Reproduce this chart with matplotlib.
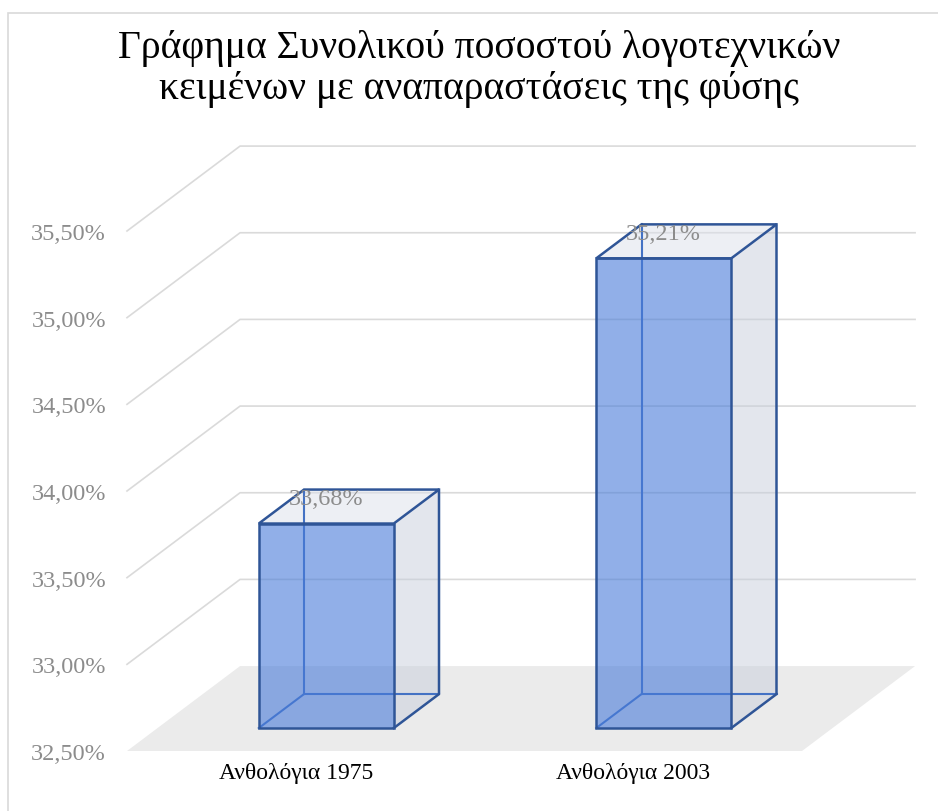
import matplotlib.pyplot as plt
from matplotlib.patches import Polygon, Rectangle

plt.rcParams['font.family'] = ['Liberation Serif', 'DejaVu Serif']

categories = ['Ανθολόγια 1975', 'Ανθολόγια 2003']
values = [33.68, 35.21]
value_labels = ['33,68%', '35,21%']
y_ticks = [32.5, 33.0, 33.5, 34.0, 34.5, 35.0, 35.5]
y_tick_labels = ['32,50%', '33,00%', '33,50%', '34,00%', '34,50%', '35,00%', '35,50%']
title = 'Γράφημα Συνολικού ποσοστού λογοτεχνικών\nκειμένων με αναπαραστάσεις της φύσης'

# oblique "3D" look: depth z in [0, 1] shifts points right and up
DX = 0.335   # category units per unit depth
DY = 0.49    # percent per unit depth
Z_FRONT, Z_BACK = 0.27, 0.67
BAR_W = 0.4
BASE = y_ticks[0]


def proj(x, y, z):
    return (x + z * DX, y + z * DY)


fig = plt.figure(figsize=(9.38, 8.12), dpi=100)
W, H = 938, 812
left, right, bottom_px = 127, 127 + (2 + DX) * 337.5, 752
px_per_pct = 173.33
top_px = bottom_px - (y_ticks[-1] + DY - BASE) * px_per_pct
ax = fig.add_axes([left / W, 1 - bottom_px / H, (right - left) / W, (bottom_px - top_px) / H])
ax.set_xlim(0, 2 + DX)
ax.set_ylim(BASE, y_ticks[-1] + DY)
for s in ax.spines.values():
    s.set_visible(False)

# chart border
fig.patches.append(Rectangle((8 / W, -0.1), 1.2, 1 - 14 / H + 0.1, transform=fig.transFigure,
                             fill=False, edgecolor='#D9D9D9', lw=1.2))

# floor
ax.add_patch(Polygon([proj(0, BASE, 0), proj(2, BASE, 0), proj(2, BASE, 1), proj(0, BASE, 1)],
                     closed=True, facecolor='#EBEBEB', edgecolor='none', zorder=1))

# gridlines: left wall and back wall
for v in y_ticks[1:]:
    pts = [proj(0, v, 0), proj(0, v, 1), proj(2, v, 1)]
    ax.plot([p[0] for p in pts], [p[1] for p in pts], color='#DADADA', lw=1.2, zorder=2,
            clip_on=False)

# bars
for i, v in enumerate(values):
    cx = i + 0.5
    x0, x1 = cx - BAR_W / 2, cx + BAR_W / 2
    zf, zb = Z_FRONT, Z_BACK
    side = [proj(x1, BASE, zf), proj(x1, BASE, zb), proj(x1, v, zb), proj(x1, v, zf)]
    top = [proj(x0, v, zf), proj(x1, v, zf), proj(x1, v, zb), proj(x0, v, zb)]
    front = [proj(x0, BASE, zf), proj(x1, BASE, zf), proj(x1, v, zf), proj(x0, v, zf)]
    ax.add_patch(Polygon(side, closed=True, facecolor='#C8CFDC', alpha=0.5, edgecolor='none', zorder=3))
    ax.add_patch(Polygon(top, closed=True, facecolor='#DDE1EB', alpha=0.5, edgecolor='none', zorder=3))
    # hidden edges
    for a, b in [((x0, BASE, zb), (x0, v, zb)), ((x0, BASE, zb), (x1, BASE, zb)),
                 ((x0, BASE, zf), (x0, BASE, zb))]:
        pa, pb = proj(*a), proj(*b)
        ax.plot([pa[0], pb[0]], [pa[1], pb[1]], color='#4472C4', lw=1.5, zorder=4)
    ax.add_patch(Polygon(front, closed=True, facecolor='#487BD9', alpha=0.6, edgecolor='none', zorder=5))
    ax.add_patch(Polygon(front, closed=True, fill=False, edgecolor='#2F5597', lw=1.8, zorder=6))
    ax.add_patch(Polygon(top, closed=True, fill=False, edgecolor='#2F5597', lw=1.8, zorder=6))
    edge = [proj(x1, v, zb), proj(x1, BASE, zb), proj(x1, BASE, zf)]
    ax.plot([p[0] for p in edge], [p[1] for p in edge], color='#2F5597', lw=1.8, zorder=6)
    lx, ly = proj(cx, v, zf)
    ax.annotate(value_labels[i], (lx, ly), xytext=(0, 18), textcoords='offset points',
                ha='center', va='center', fontsize=17.5, color='#8C8C8C', zorder=7)

ax.set_yticks(y_ticks)
ax.set_yticklabels(y_tick_labels, fontsize=17.5, color='#8C8C8C')
ax.set_xticks([0.5, 1.5])
ax.set_xticklabels(categories, fontsize=17, color='black')
ax.tick_params(axis='y', length=0, pad=15)
ax.tick_params(axis='x', length=0, pad=8)

fig.text(479 / W, 1 - 69 / H, title, ha='center', va='center', fontsize=28.5,
         linespacing=1.12, color='black')

fig.savefig('out.png', dpi=100)
